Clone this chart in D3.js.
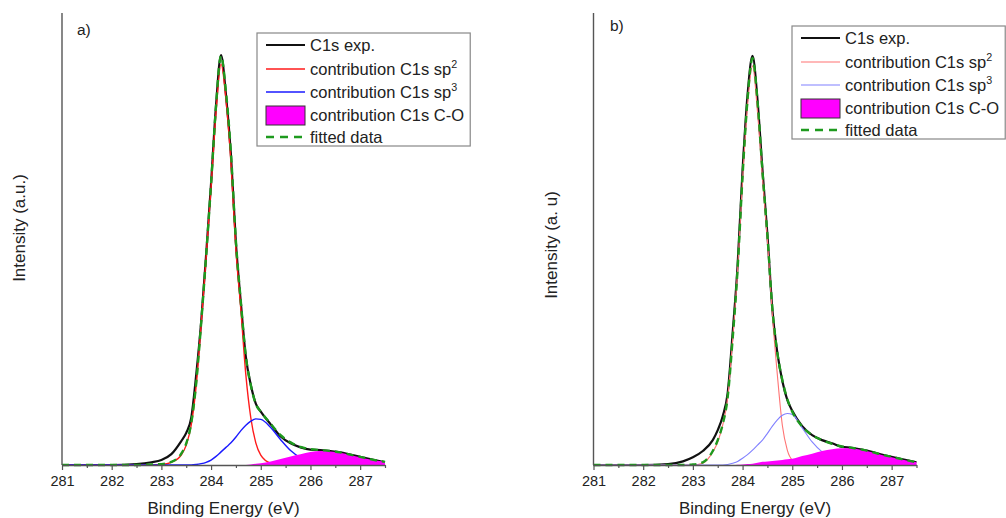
<!DOCTYPE html>
<html>
<head>
<meta charset="utf-8">
<script src="https://cdn.jsdelivr.net/npm/d3@7"></script>
<style>
  body { margin: 0; background: #fff; }
  svg text { font-family: Arial, "Liberation Sans", Helvetica, sans-serif; fill: #222; }
</style>
</head>
<body>
<svg id="chart" width="1006" height="518"></svg>
<script>
// Binding energy grid (eV) shared by every curve
const energy = [281.0, 282.0, 282.5, 282.8, 283.0, 283.2, 283.4, 283.5, 283.6, 283.7,
                283.8, 283.9, 284.0, 284.1, 284.2, 284.3, 284.4, 284.5, 284.6, 284.7,
                284.8, 284.9, 285.0, 285.2, 285.4, 285.6, 285.8, 286.0, 286.2, 286.4,
                286.6, 286.8, 287.0, 287.2, 287.5];

// Sample a) — intensities (a.u.)
const expA = [0, 0, 0.2, 0.6, 1.1, 2.4, 5.3, 7.1, 10.4, 19.9,
              31.6, 46.5, 62.4, 79.6, 90.7, 81.9, 68.6, 49.1, 35.8, 23.9,
              17.7, 13.6, 11.8, 9.0, 6.3, 4.8, 3.9, 3.4, 3.3, 3.1,
              2.8, 2.3, 1.8, 1.3, 0.6];
const sp2A = [0, 0, 0, 0, 0.1, 0.6, 2.2, 4.4, 8.8, 17.5,
              31.0, 45.8, 61.5, 78.1, 88.7, 80.8, 66.8, 47.6, 34.3, 19.9,
              10.4, 4.9, 2.2, 0.4, 0, 0, 0, 0, 0, 0,
              0, 0, 0, 0, 0];
const sp3A = [0, 0, 0, 0, 0, 0, 0, 0, 0, 0.1,
              0.3, 0.6, 1.1, 1.9, 2.9, 3.9, 4.9, 6.2, 7.6, 8.8,
              9.7, 10.2, 10.1, 8.3, 5.6, 3.2, 1.6, 0.7, 0.2, 0,
              0, 0, 0, 0, 0];
const coA  = [0, 0, 0, 0, 0, 0, 0, 0, 0, 0,
              0, 0, 0, 0, 0, 0, 0, 0, 0, 0,
              0.1, 0.25, 0.4, 0.8, 1.3, 1.9, 2.4, 2.9, 3.1, 3.0,
              2.7, 2.2, 1.7, 1.2, 0.7];
const fitA = [0, 0, 0, 0.1, 0.2, 0.7, 2.5, 4.8, 9.2, 18.0,
              31.3, 46.2, 62.2, 79.5, 90.5, 82.5, 69.0, 49.5, 36.0, 24.0,
              17.6, 13.5, 11.8, 9.1, 6.6, 5.0, 4.0, 3.5, 3.3, 3.1,
              2.8, 2.3, 1.8, 1.3, 0.7];

// Sample b) — intensities (a.u.)
const expB = [0, 0, 0.2, 0.8, 1.7, 3.1, 5.5, 7.7, 10.8, 15.9,
              29.2, 44.2, 65.3, 81.9, 90.5, 80.8, 65.3, 50.9, 34.3, 24.8,
              18.6, 14.4, 12.0, 8.6, 6.6, 5.5, 4.8, 4.0, 3.8, 3.4,
              2.9, 2.3, 1.8, 1.3, 0.6];
const sp2B = [0, 0, 0, 0, 0, 0.4, 2.9, 5.1, 8.8, 14.8,
              27.7, 43.1, 63.1, 79.6, 88.3, 78.1, 63.5, 49.8, 33.2, 19.9,
              8.8, 3.3, 1.1, 0, 0, 0, 0, 0, 0, 0,
              0, 0, 0, 0, 0];
const sp3B = [0, 0, 0, 0, 0, 0, 0, 0, 0, 0.1,
              0.4, 0.8, 1.5, 2.3, 3.3, 4.4, 5.5, 7.0, 8.6, 10.0,
              11.0, 11.4, 11.2, 8.2, 5.1, 2.9, 1.5, 0.7, 0.2, 0,
              0, 0, 0, 0, 0];
const coB  = [0, 0, 0, 0, 0, 0, 0, 0, 0, 0,
              0, 0.05, 0.1, 0.2, 0.3, 0.5, 0.7, 0.8, 0.9, 1.0,
              1.1, 1.25, 1.4, 2.0, 2.5, 3.1, 3.5, 3.7, 3.7, 3.3,
              2.8, 2.2, 1.7, 1.2, 0.6];
const fitB = [0, 0, 0, 0, 0.1, 0.6, 3.1, 5.5, 9.0, 15.0,
              27.9, 43.4, 64.0, 80.9, 90.0, 80.5, 65.0, 50.8, 34.6, 24.8,
              18.8, 14.6, 11.8, 8.5, 6.6, 5.5, 4.7, 4.1, 3.8, 3.4,
              2.9, 2.3, 1.8, 1.3, 0.6];

// Axis ticks
const majorTicks = [281, 282, 283, 284, 285, 286, 287];
const minorTicks = [281.5, 282.5, 283.5, 284.5, 285.5, 286.5, 287.5];

const legendLabels = ["C1s exp.", "contribution C1s sp", "contribution C1s sp", "contribution C1s C-O", "fitted data"];
const legendSup = ["", "2", "3", "", ""];

const svg = d3.select("#chart");

function drawPanel(opt) {
  const x = d3.scaleLinear().domain([281, 287.5]).range([opt.left, opt.right]);
  const y = d3.scaleLinear().domain([0, 100]).range([465, 13]);
  const g = svg.append("g");
  const pts = arr => energy.map((e, i) => [e, arr[i]]);

  const line = d3.line().x(d => x(d[0])).y(d => y(d[1])).curve(d3.curveMonotoneX);
  const area = d3.area().x(d => x(d[0])).y0(y(0)).y1(d => y(d[1])).curve(d3.curveMonotoneX);

  // experimental spectrum
  g.append("path").attr("d", line(pts(opt.exp)))
    .attr("fill", "none").attr("stroke", "#111").attr("stroke-width", 2.2);
  // sp2 component
  g.append("path").attr("d", line(pts(opt.sp2)))
    .attr("fill", "none").attr("stroke", opt.redColor).attr("stroke-width", opt.compWidth);
  // sp3 component
  g.append("path").attr("d", line(pts(opt.sp3)))
    .attr("fill", "none").attr("stroke", opt.blueColor).attr("stroke-width", opt.compWidth);
  // C-O component (filled)
  g.append("path").attr("d", area(pts(opt.co)))
    .attr("fill", "#ff00ff").attr("stroke", "none");
  // fitted envelope
  g.append("path").attr("d", line(pts(opt.fit)))
    .attr("fill", "none").attr("stroke", "#1e9a1e").attr("stroke-width", 2.4)
    .attr("stroke-dasharray", "7,5");

  // left axis line (no ticks)
  g.append("line").attr("x1", opt.left).attr("x2", opt.left).attr("y1", 13).attr("y2", 465)
    .attr("stroke", "#555").attr("stroke-width", 1.4);

  // bottom axis with major and minor ticks
  const ax = g.append("g").attr("transform", "translate(0,465)")
    .call(d3.axisBottom(x).tickValues(majorTicks).tickSize(5).tickSizeOuter(0).tickPadding(6)
      .tickFormat(d3.format("d")));
  ax.select(".domain").attr("stroke", "#555").attr("stroke-width", 1.4);
  ax.selectAll(".tick line").attr("stroke", "#555").attr("stroke-width", 1.2);
  ax.selectAll(".tick text").attr("font-size", 14.5).attr("fill", "#222")
    .style("font-family", "Arial, 'Liberation Sans', sans-serif");
  const mx = g.append("g").attr("transform", "translate(0,465)")
    .call(d3.axisBottom(x).tickValues(minorTicks).tickSize(3).tickSizeOuter(0).tickFormat(""));
  mx.select(".domain").remove();
  mx.selectAll(".tick line").attr("stroke", "#555").attr("stroke-width", 1.2);

  // axis titles
  g.append("text").attr("x", (opt.left + opt.right) / 2).attr("y", 514)
    .attr("text-anchor", "middle").attr("font-size", 17).text("Binding Energy (eV)");
  g.append("text").attr("transform", `translate(${opt.ytitleX},${opt.ytitleY}) rotate(-90)`)
    .attr("text-anchor", "middle").attr("font-size", 17).text(opt.ytitle);

  // panel letter
  g.append("text").attr("x", opt.tagX).attr("y", opt.tagY).attr("font-size", 15.5).text(opt.tag);

  // legend
  const lg = g.append("g").attr("transform", `translate(${opt.legX},${opt.legY})`);
  const box = lg.append("rect").attr("x", 0).attr("y", 0).attr("height", 113)
    .attr("fill", "#fff").attr("stroke", "#888").attr("stroke-width", 1.2);
  const rows = [12, 36, 59, 82, 104];
  const styles = [
    {type: "line", color: "#111", w: 2.2},
    {type: "line", color: opt.redColor, w: opt.compWidth},
    {type: "line", color: opt.blueColor, w: opt.compWidth},
    {type: "rect"},
    {type: "dash"}
  ];
  let maxEnd = 0;
  rows.forEach((ry, i) => {
    const s = styles[i];
    if (s.type === "line") {
      lg.append("line").attr("x1", 9).attr("x2", 48).attr("y1", ry).attr("y2", ry)
        .attr("stroke", s.color).attr("stroke-width", s.w);
    } else if (s.type === "rect") {
      lg.append("rect").attr("x", 9).attr("y", ry - 9).attr("width", 39).attr("height", 19)
        .attr("fill", "#ff00ff").attr("stroke", "#333").attr("stroke-width", 1);
    } else {
      lg.append("line").attr("x1", 9).attr("x2", 48).attr("y1", ry).attr("y2", ry)
        .attr("stroke", "#1e9a1e").attr("stroke-width", 2.4).attr("stroke-dasharray", "8,6");
    }
    const t = lg.append("text").attr("x", 53).attr("y", ry + 6).attr("font-size", opt.legFont);
    t.append("tspan").text(legendLabels[i]);
    if (legendSup[i]) {
      t.append("tspan").attr("dy", -7).attr("font-size", opt.legFont * 0.65).text(legendSup[i]);
    }
    const bb = t.node().getBBox();
    maxEnd = Math.max(maxEnd, bb.x + bb.width);
  });
  box.attr("width", maxEnd + 6);
}

drawPanel({
  left: 62, right: 385, exp: expA, sp2: sp2A, sp3: sp3A, co: coA, fit: fitA,
  redColor: "#ff1a1a", blueColor: "#1a1aff", compWidth: 1.4,
  ytitle: "Intensity (a.u.)", ytitleX: 25, ytitleY: 228,
  tag: "a)", tagX: 77, tagY: 35,
  legX: 257, legY: 33, legFont: 16.5
});
drawPanel({
  left: 593.5, right: 916.5, exp: expB, sp2: sp2B, sp3: sp3B, co: coB, fit: fitB,
  redColor: "#ff7373", blueColor: "#8080ff", compWidth: 1.1,
  ytitle: "Intensity (a. u)", ytitleX: 557, ytitleY: 245,
  tag: "b)", tagX: 610, tagY: 31,
  legX: 792, legY: 26, legFont: 16.5
});
</script>
</body>
</html>
